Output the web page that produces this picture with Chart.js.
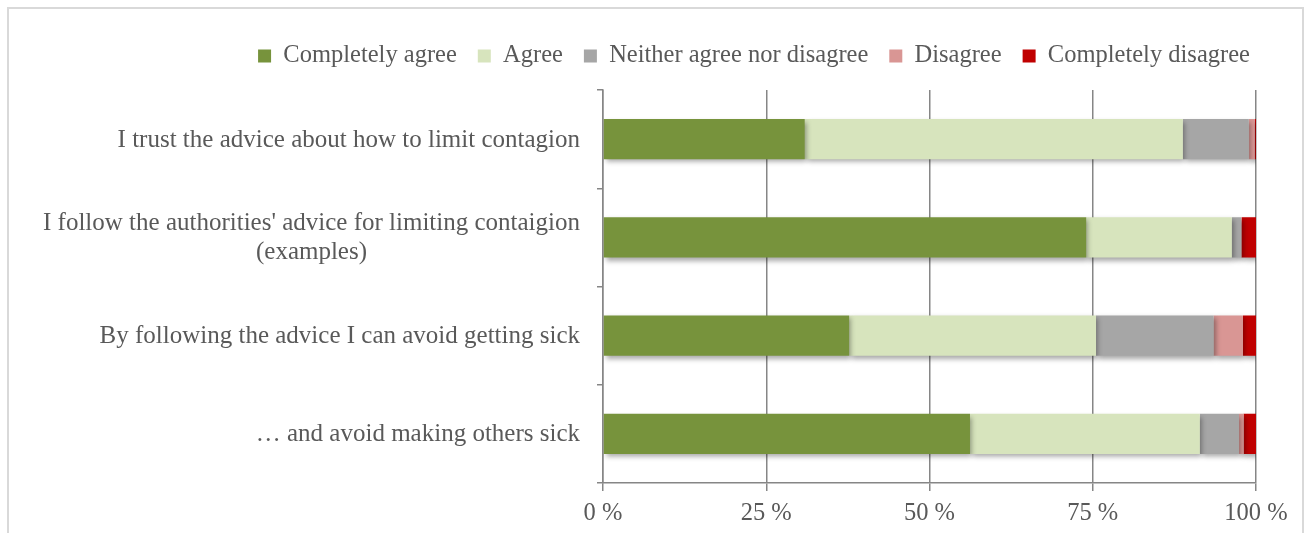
<!DOCTYPE html>
<html>
<head>
<meta charset="utf-8">
<script src="https://cdn.jsdelivr.net/npm/chart.js@4/dist/chart.umd.min.js"></script>
<style>
  html, body { margin: 0; padding: 0; background: #fff; overflow: hidden; }
  #wrap { position: relative; width: 1306px; height: 533px; }
  #frame { position: absolute; left: 7px; top: 7px; width: 1297px; height: 600px; border: 2px solid #d9d9d9; box-sizing: border-box; }
  #c { position: absolute; left: 0; top: 0; }
</style>
</head>
<body>
<div id="wrap">
  <div id="frame"></div>
  <canvas id="c" width="1306" height="533"></canvas>
</div>
<script>
// Survey statements (multi-line labels are arrays)
const statements = [
  ['I trust the advice about how to limit contagion'],
  ["I follow the authorities' advice for limiting contaigion", '(examples)'],
  ['By following the advice I can avoid getting sick'],
  ['\u2026 and avoid making others sick']
];

// Share of answers per statement, in percent
const completelyAgree    = [30.9, 74.0, 37.7, 56.2];
const agree              = [57.9, 22.3, 37.8, 35.2];
const neither            = [10.1,  1.4, 18.0,  6.0];
const disagree           = [ 0.9,  0.1,  4.5,  0.7];
const completelyDisagree = [ 0.2,  2.2,  2.0,  1.9];

const seriesNames = ['Completely agree', 'Agree', 'Neither agree nor disagree', 'Disagree', 'Completely disagree'];
const seriesColors = ['#77933C', '#D7E4BD', '#A6A6A6', '#D99694', '#C00000'];

const xTicks = [0, 25, 50, 75, 100];

const FONT = '"Liberation Serif", "Times New Roman", serif';
const TEXT = '#595959';
const AXIS = '#868686';
const FS_CAT = 25;
const FS_LEG = 24.5;
const FS_TICK = 24.5;
const LEG_PAD = 21;

// Soft drop shadow under the bar segments
const barShadow = {
  id: 'barShadow',
  beforeDatasetsDraw(chart) {
    const ctx = chart.ctx;
    ctx.save();
    ctx.shadowColor = 'rgba(0,0,0,0.35)';
    ctx.shadowBlur = 5;
    ctx.shadowOffsetX = 2;
    ctx.shadowOffsetY = 3;
  },
  afterDatasetsDraw(chart) {
    chart.ctx.restore();
  }
};

// Category labels: right-aligned block, lines centred within the block
const categoryLabels = {
  id: 'categoryLabels',
  afterDraw(chart) {
    const ctx = chart.ctx;
    const ys = chart.scales.y;
    const right = chart.chartArea.left - 23;
    ctx.save();
    ctx.font = FS_CAT + 'px ' + FONT;
    ctx.fillStyle = TEXT;
    ctx.textAlign = 'center';
    ctx.textBaseline = 'middle';
    const lh = 29;
    statements.forEach((lines, i) => {
      const y = ys.getPixelForTick(i) + 1;
      const w = Math.max(...lines.map(l => ctx.measureText(l).width));
      const cx = right - w / 2;
      lines.forEach((line, j) => {
        ctx.fillText(line, cx, y + (j - (lines.length - 1) / 2) * lh);
      });
    });
    ctx.restore();
  }
};

// Place the legend row above the plot
const legendPlacement = {
  id: 'legendPlacement',
  afterLayout(chart) {
    const lg = chart.legend;
    if (!lg) return;
    const dx = 754 - (lg.left + lg.right) / 2;
    lg.left += dx; lg.right += dx;
    const dy = 56 - (lg.top + lg.options.labels.padding + FS_LEG / 2);
    lg.top += dy; lg.bottom += dy;
  }
};

const values = [completelyAgree, agree, neither, disagree, completelyDisagree];

new Chart(document.getElementById('c'), {
  type: 'bar',
  data: {
    labels: statements,
    datasets: seriesNames.map((name, k) => ({
      label: name,
      data: values[k],
      backgroundColor: seriesColors[k],
      borderWidth: 0,
      categoryPercentage: 1,
      barPercentage: 0.41
    }))
  },
  options: {
    indexAxis: 'y',
    responsive: false,
    animation: false,
    devicePixelRatio: 1,
    // top padding + legend height puts the plot top at y = 90
    layout: { padding: { top: 90 - (FS_LEG + LEG_PAD + 10), right: 50, left: 0, bottom: 0 } },
    plugins: {
      tooltip: { enabled: false },
      legend: {
        position: 'top',
        labels: {
          boxWidth: 13,
          boxHeight: 13,
          padding: LEG_PAD,
          color: TEXT,
          font: { family: FONT, size: FS_LEG }
        }
      }
    },
    scales: {
      x: {
        stacked: true,
        min: 0,
        max: 100,
        afterBuildTicks(scale) { scale.ticks = xTicks.map(v => ({ value: v })); },
        afterFit(scale) { scale.height = 50; },
        ticks: {
          callback: v => v + ' %',
          color: TEXT,
          font: { family: FONT, size: FS_TICK },
          padding: 8,
          maxRotation: 0
        },
        grid: { color: AXIS, lineWidth: 1.5, tickLength: 8, drawTicks: true },
        border: { color: AXIS, width: 1.5 }
      },
      y: {
        stacked: true,
        afterFit(scale) { scale.width = 603; },
        ticks: { color: 'rgba(0,0,0,0)', font: { family: FONT, size: FS_CAT } },
        grid: { drawOnChartArea: false, color: AXIS, lineWidth: 1.5, tickLength: 6, offset: true },
        border: { color: AXIS, width: 1.5 }
      }
    }
  },
  plugins: [barShadow, categoryLabels, legendPlacement]
});
</script>
</body>
</html>
